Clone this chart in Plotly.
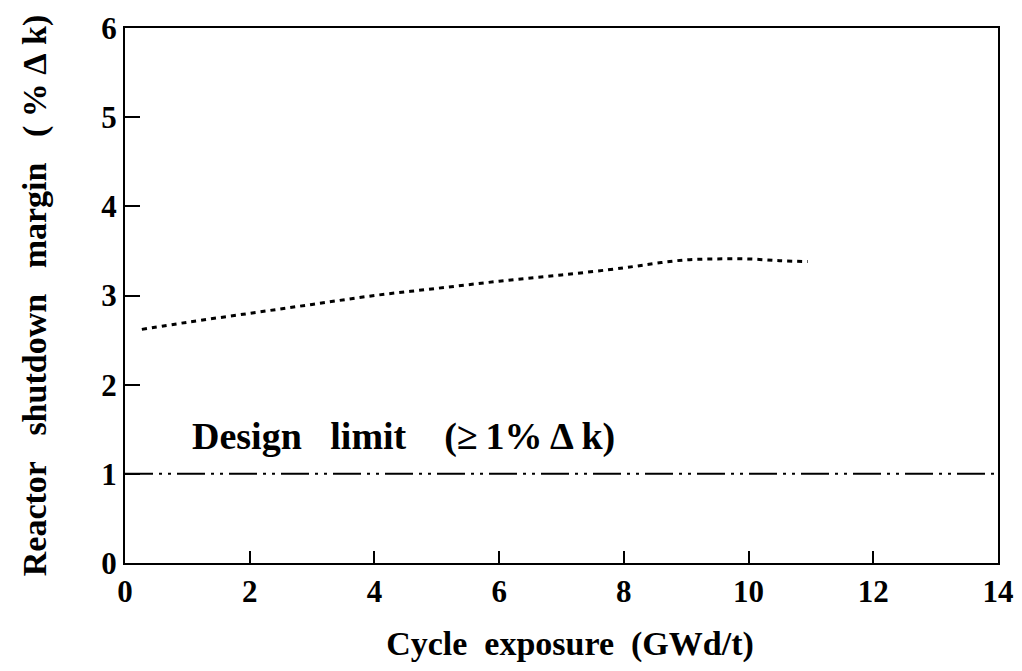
import plotly.graph_objects as go

# Data
exposure = [0.27, 1.0, 2.0, 3.0, 4.0, 5.0, 6.0, 7.0, 8.0, 8.5, 9.0, 9.5, 10.0, 10.5, 10.95]
margin = [2.62, 2.70, 2.80, 2.90, 3.00, 3.08, 3.16, 3.23, 3.31, 3.36, 3.40, 3.41, 3.41, 3.39, 3.38]
limit_x = [0, 14]
limit_y = [1, 1]

x_ticks = [0, 2, 4, 6, 8, 10, 12, 14]
y_ticks = [0, 1, 2, 3, 4, 5, 6]

FONT = "Liberation Serif"
SP = "&nbsp;"
TH = "\u2009"

fig = go.Figure()
fig.add_trace(go.Scatter(x=exposure, y=margin, mode="lines", line_shape="spline",
                         line=dict(color="black", width=3, dash="5px,5px"),
                         showlegend=False))
fig.add_trace(go.Scatter(x=limit_x, y=limit_y, mode="lines",
                         line=dict(color="black", width=2, dash="28px,6px,3px,6px,3px,6px"),
                         showlegend=False))

fig.add_annotation(x=1.04, y=1.42, xref="x", yref="y", xanchor="left", yanchor="middle",
                   text="Design" + SP * 3 + "limit" + SP * 4 + "(\u2265" + TH + "1%" + TH + "\u0394" + TH + "k)",
                   showarrow=False,
                   font=dict(family=FONT, size=38, color="black", weight="bold"))

axis_common = dict(showline=True, linecolor="black", linewidth=2, mirror=True,
                   showgrid=False, zeroline=False, ticks="inside", tickcolor="black",
                   tickwidth=1.5, automargin=False,
                   tickfont=dict(family=FONT, size=31, color="black", weight="bold"))

fig.update_xaxes(range=[0, 14], tickvals=x_ticks, ticklen=12,
                 title=dict(text=SP * 2 + "Cycle" + SP * 2 + "exposure" + SP * 2 + "(GWd/t)", standoff=30,
                            font=dict(family=FONT, size=34, color="black", weight="bold")),
                 **axis_common)
fig.update_yaxes(range=[0, 6], tickvals=y_ticks, ticklen=15,
                 title=dict(text="Reactor" + SP * 3 + "shutdown" + SP * 3 + "margin" + SP * 3
                            + "(" + SP + "%" + SP + "\u0394" + SP + "k)", standoff=44,
                            font=dict(family=FONT, size=34, color="black", weight="bold")),
                 **axis_common)

# The page body has an 8px default margin, so the figure is sized to fit inside it
fig.update_layout(width=1006, height=655, margin=dict(l=117, r=16, t=20, b=100),
                  plot_bgcolor="white", paper_bgcolor="white")

fig.write_html("out.html")
